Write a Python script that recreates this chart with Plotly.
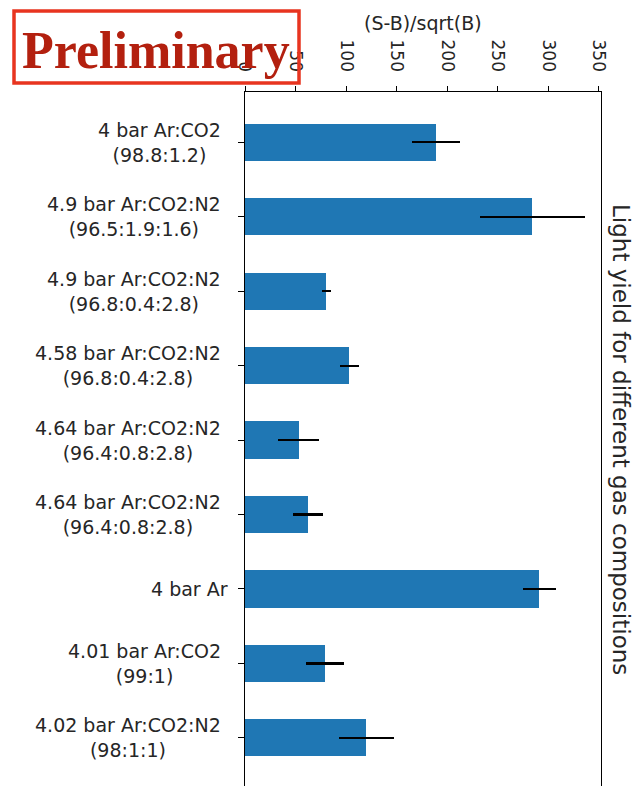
import plotly.graph_objects as go

# Gas mixtures (pressure + components, composition in brackets)
mixture = [
    "4 bar Ar:CO2",
    "4.9 bar Ar:CO2:N2",
    "4.9 bar Ar:CO2:N2",
    "4.58 bar Ar:CO2:N2",
    "4.64 bar Ar:CO2:N2",
    "4.64 bar Ar:CO2:N2",
    "4 bar Ar",
    "4.01 bar Ar:CO2",
    "4.02 bar Ar:CO2:N2",
]
composition = [
    "(98.8:1.2)",
    "(96.5:1.9:1.6)",
    "(96.8:0.4:2.8)",
    "(96.8:0.4:2.8)",
    "(96.4:0.8:2.8)",
    "(96.4:0.8:2.8)",
    "",
    "(99:1)",
    "(98:1:1)",
]
significance = [189, 284, 80.5, 103, 53, 62.5, 291, 79, 120]
significance_err = [24, 52, 4.2, 9.5, 20, 15, 16.5, 18.5, 27.5]
x_ticks = [0, 50, 100, 150, 200, 250, 300, 350]

W, H = 637, 786
ML, MR, MT, MB = 245, 36, 92, 0
PW, PH = W - ML - MR, H - MT - MB


def px_x(x):
    return (x - ML) / PW


def px_y(y):
    return (H - MB - y) / PH


pos = list(range(len(significance)))
FONT = "DejaVu Sans, Verdana, sans-serif"
TXT = "#262626"

fig = go.Figure()
fig.add_trace(go.Bar(
    x=significance,
    y=pos,
    orientation="h",
    width=0.5,
    marker=dict(color="#1f77b4", line=dict(width=0)),
    error_x=dict(type="data", array=significance_err, color="black",
                 thickness=2.2, width=0),
    hoverinfo="x",
))

# Category labels: two centred lines, right-aligned block next to the axis
for p, m, c in zip(pos, mixture, composition):
    text = m if not c else f"{m}<br>{c}"
    fig.add_annotation(
        x=0, xref="paper", y=p, yref="y",
        text=text, showarrow=False,
        xanchor="right", yanchor="middle", align="center",
        xshift=-22 if c else -15,
        font=dict(family=FONT, size=19, color=TXT),
    )

# Axis label above the (top) value axis
fig.add_annotation(
    x=0.5, xref="paper", y=px_y(23), yref="paper",
    text="(S-B)/sqrt(B)", showarrow=False,
    xanchor="center", yanchor="middle",
    font=dict(family=FONT, size=19, color=TXT),
)

# Chart title, rotated along the right edge
fig.add_annotation(
    x=px_x(621), xref="paper", y=0.5, yref="paper",
    text="Light yield for different gas compositions", showarrow=False,
    textangle=90, xanchor="center", yanchor="middle",
    font=dict(family=FONT, size=23, color=TXT),
)

# "Preliminary" stamp
fig.add_shape(
    type="rect", xref="paper", yref="paper",
    x0=px_x(14), x1=px_x(299), y0=px_y(83), y1=px_y(11),
    line=dict(color="#e8341f", width=3.5), fillcolor="rgba(0,0,0,0)",
    layer="above",
)
fig.add_annotation(
    x=px_x(156), xref="paper", y=px_y(50), yref="paper",
    text="<b>Preliminary</b>", showarrow=False,
    xanchor="center", yanchor="middle",
    font=dict(family="Liberation Serif, Times New Roman, serif", size=52,
              color="#b3200f"),
)

fig.update_xaxes(
    side="top", range=[0, 352],
    tickmode="array", tickvals=x_ticks, ticktext=[str(v) for v in x_ticks],
    tickangle=90, ticks="outside", ticklen=5, tickwidth=1, tickcolor="black",
    ticklabelstandoff=8,
    showline=True, linecolor="black", linewidth=1.2, mirror=False,
    showgrid=False, zeroline=False,
    tickfont=dict(family=FONT, size=17, color=TXT),
)
fig.update_yaxes(
    range=[-0.675 + PH / 74.45, -0.675],
    tickmode="array", tickvals=pos, showticklabels=False,
    ticks="outside", ticklen=6, tickwidth=1, tickcolor="black",
    showline=True, linecolor="black", linewidth=1.2, mirror=True,
    showgrid=False, zeroline=False,
)
fig.update_layout(
    width=W, height=H, autosize=False,
    margin=dict(l=ML, r=MR, t=MT, b=MB, pad=0),
    plot_bgcolor="white", paper_bgcolor="white",
    showlegend=False, bargap=0,
)

fig.write_html("out.html")
